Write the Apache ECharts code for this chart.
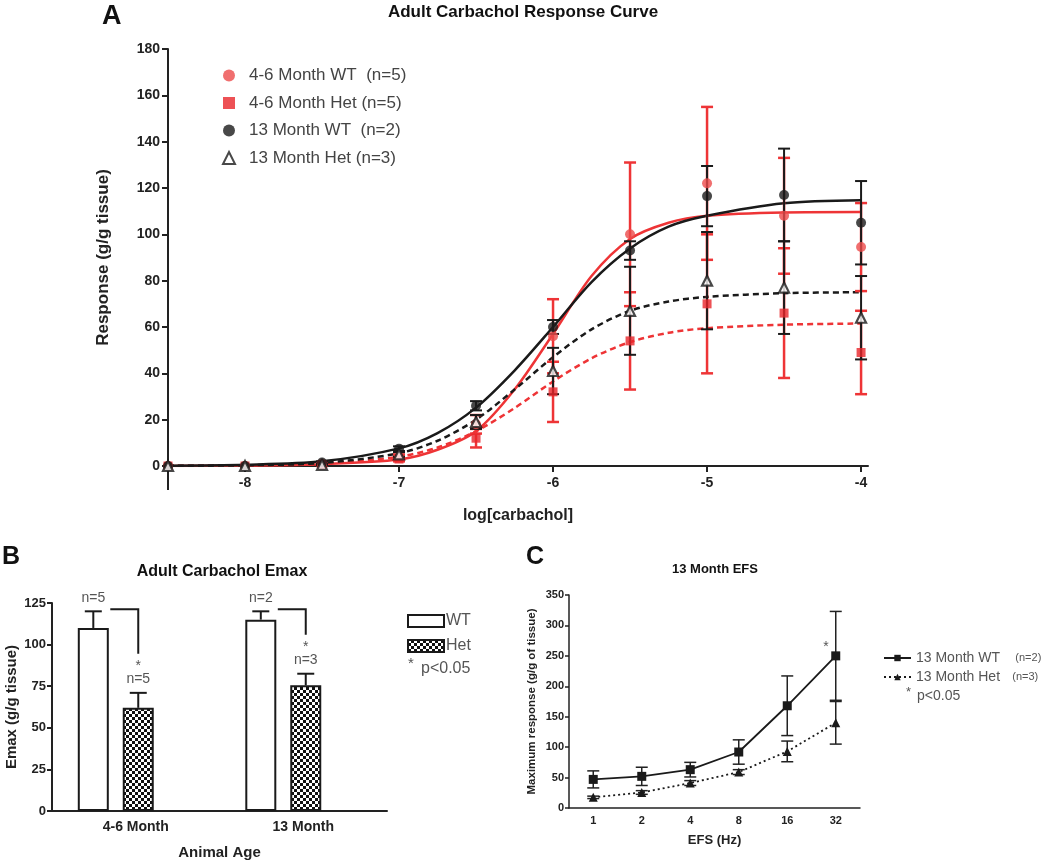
<!DOCTYPE html>
<html><head><meta charset="utf-8">
<script src="https://cdn.jsdelivr.net/npm/echarts@6/dist/echarts.min.js"></script>
<style>html,body{margin:0;padding:0;background:#fff}#c{width:1050px;height:861px}</style>
</head><body><div id="c"></div><script>
// ---------- Panel A: Adult Carbachol Response Curve ----------
const doseX = [-8.5, -8, -7.5, -7, -6.5, -6, -5.5, -5, -4.5, -4];
const wt46Mean = [0, 0, 1, 4, 18, 56, 100, 122, 108, 94.5];
const wt46Sem  = [0, 0, 0.5, 1, 4, 16, 31, 33, 25, 19];
const het46Mean = [0, 0, 0.5, 3, 12, 32, 54, 70, 66, 49];
const het46Sem  = [0, 0, 0.5, 1, 4, 13, 21, 30, 28, 18];
const wt13Mean = [0, 0, 1.5, 7.5, 26, 60, 93, 116.5, 117, 105];
const wt13Sem  = [0, 0, 0.5, 1, 2, 3, 4, 13, 20, 18];
const het13Mean = [0, 0, 0.5, 5, 19, 41, 67, 80, 77, 64];
const het13Sem  = [0, 0, 0.3, 1, 3, 10, 19, 21, 20, 18];
// fitted curves, values
const curveX = [-8.5, -8, -7.5, -7, -6.75, -6.5, -6.25, -6, -5.75, -5.5, -5.25, -5, -4.5, -4];
const wt46Curve  = [0, 0.2, 0.8, 2.8, 7, 15, 33, 57, 82, 98, 105, 108, 109.4, 109.6];
const het46Curve = [0.1, 0.3, 1, 4, 8, 15, 25, 36.5, 46.5, 53.5, 57.5, 59.5, 61, 61.5];
const wt13Curve  = [0.13, 0.5, 2, 7.6, 14.2, 25.2, 41.2, 60, 79.4, 93.9, 103.3, 108, 113.4, 114.7];
const het13Curve = [0.1, 0.3, 1.3, 5.5, 10.9, 20, 33, 47, 59, 67, 71, 73, 74.6, 75];
const legendA = ['4-6 Month WT  (n=5)', '4-6 Month Het (n=5)', '13 Month WT  (n=2)', '13 Month Het (n=3)'];
const xTicksA = [-8, -7, -6, -5, -4];

// ---------- Panel B: Adult Carbachol Emax ----------
const ageCats = ['4-6 Month', '13 Month'];
const emaxWT = [110, 115];
const emaxWTErr = [10, 5];
const emaxHet = [62, 75.5];
const emaxHetErr = [9, 7];
const nWT = ['n=5', 'n=2'];
const nHet = ['n=5', 'n=3'];

// ---------- Panel C: 13 Month EFS ----------
const efsCats = ['1', '2', '4', '8', '16', '32'];
const efsWT = [47, 52, 63, 92, 168, 250];
const efsWTErr = [14, 15, 12, 20, 49, 73];
const efsHet = [17.5, 25.5, 41, 59, 93, 140];
const efsHetErr = [2, 3, 4, 4, 17, 35];

const FONT = 'Liberation Sans, Arial, sans-serif';
const RED = '#EE3436', RED_M = '#EC4B4B', BLK = '#1a1a1a';

// checkered pattern
const pc = document.createElement('canvas');
pc.width = 6; pc.height = 6;
const px = pc.getContext('2d');
px.fillStyle = '#111'; px.fillRect(0, 0, 6, 6);
px.fillStyle = '#fff'; px.fillRect(0, 0, 3, 3); px.fillRect(3, 3, 3, 3);
const checker = { image: pc, repeat: 'repeat' };

function errBarA(color, cap, lw) {
  return function (params, api) {
    const x = api.value(0), m = api.value(1), e = api.value(2);
    if (!e) return { type: 'group', children: [] };
    const t = api.coord([x, m + e]), b = api.coord([x, m - e]);
    const st = { stroke: color, lineWidth: lw };
    return { type: 'group', children: [
      { type: 'line', shape: { x1: t[0], y1: t[1], x2: b[0], y2: b[1] }, style: st },
      { type: 'line', shape: { x1: t[0] - cap, y1: t[1], x2: t[0] + cap, y2: t[1] }, style: st },
      { type: 'line', shape: { x1: b[0] - cap, y1: b[1], x2: b[0] + cap, y2: b[1] }, style: st }
    ] };
  };
}
function zip3(a, b, c) { return a.map((v, i) => [a[i], b[i], c[i]]); }
function pairs(xs, ys) { return xs.map((x, i) => [x, ys[i]]); }

// bar offsets inside category (layout style constants)
const OFF_WT = -42.45, OFF_HET = 2.5;
function errBarB(off) {
  return function (params, api) {
    const i = api.value(0), m = api.value(1), e = api.value(2);
    const base = api.coord([i, m]), top = api.coord([i, m + e]);
    const x = base[0] + off;
    const st = { stroke: BLK, lineWidth: 2 };
    return { type: 'group', children: [
      { type: 'line', shape: { x1: x, y1: base[1], x2: x, y2: top[1] }, style: st },
      { type: 'line', shape: { x1: x - 8.5, y1: top[1], x2: x + 8.5, y2: top[1] }, style: st }
    ] };
  };
}
function bracketB(params, api) {
  const i = api.value(0), wtTop = api.value(1), hetTop = api.value(2);
  const pW = api.coord([i, wtTop]), pH = api.coord([i, hetTop]);
  const xw = pW[0] + OFF_WT, xh = pW[0] + OFF_HET;
  const yTop = pW[1] - 2, yEnd = pH[1] - 39;
  const st = { stroke: BLK, lineWidth: 2, fill: null };
  const txt = (x, y, s) => ({ type: 'text', x: x, y: y, style: { text: s, font: '14px ' + FONT, fill: '#555', align: 'center', verticalAlign: 'middle', textAlign: 'center', textVerticalAlign: 'middle' } });
  return { type: 'group', children: [
    { type: 'polyline', shape: { points: [[xw + 17, yTop], [xh, yTop], [xh, yEnd]] }, style: st },
    txt(xh, pH[1] - 27, '*'),
    txt(xh, pH[1] - 14, nHet[params.dataIndex]),
    txt(xw, pW[1] - 13, nWT[params.dataIndex])
  ] };
}
function errBarC(params, api) {
  const i = api.value(0), m = api.value(1), e = api.value(2);
  const t = api.coord([i, m + e]), b = api.coord([i, m - e]);
  const st = { stroke: '#222', lineWidth: 1.5 };
  return { type: 'group', children: [
    { type: 'line', shape: { x1: t[0], y1: t[1], x2: b[0], y2: b[1] }, style: st },
    { type: 'line', shape: { x1: t[0] - 6, y1: t[1], x2: t[0] + 6, y2: t[1] }, style: st },
    { type: 'line', shape: { x1: b[0] - 6, y1: b[1], x2: b[0] + 6, y2: b[1] }, style: st }
  ] };
}

const axisLineStyle = { lineStyle: { color: '#222', width: 2 } };
const boldLbl = (s) => ({ color: '#222', fontWeight: 'bold', fontSize: s, fontFamily: FONT });
const fitLine = (name, data, color, dashed) => ({
  name: name, type: 'line', xAxisIndex: 0, yAxisIndex: 0, smooth: 0.3,
  showSymbol: false, z: 2, data: data,
  lineStyle: { color: color, width: 2.5, type: dashed ? [6, 4] : 'solid' }
});

const option = {
  animation: false,
  backgroundColor: '#fff',
  textStyle: { fontFamily: FONT },
  grid: [
    { left: 168, top: 49, width: 700, height: 417 },
    { left: 52, top: 603, width: 335, height: 209 },
    { left: 569, top: 595, width: 291, height: 213 }
  ],
  xAxis: [
    { gridIndex: 0, type: 'value', min: -8.5, max: -3.955,
      name: 'log[carbachol]', nameLocation: 'middle', nameGap: 42,
      nameTextStyle: { fontWeight: 'bold', fontSize: 16, color: '#222' },
      axisLine: axisLineStyle,
      axisTick: { customValues: xTicksA, length: 6, lineStyle: { width: 2, color: '#222' } },
      axisLabel: Object.assign({ customValues: xTicksA, margin: 10 }, boldLbl(14)),
      splitLine: { show: false } },
    { gridIndex: 1, type: 'category', data: ageCats,
      name: 'Animal Age', nameLocation: 'middle', nameGap: 34,
      nameTextStyle: { fontWeight: 'bold', fontSize: 15, color: '#222' },
      axisLine: axisLineStyle,
      axisTick: { alignWithLabel: true, length: 6, lineStyle: { width: 2, color: '#222' } },
      axisLabel: Object.assign({ margin: 9 }, boldLbl(14)) },
    { gridIndex: 2, type: 'category', data: efsCats,
      name: 'EFS (Hz)', nameLocation: 'middle', nameGap: 26,
      nameTextStyle: { fontWeight: 'bold', fontSize: 13, color: '#222' },
      axisLine: { lineStyle: { color: '#222', width: 1.5 } },
      axisTick: { alignWithLabel: true, length: 5, lineStyle: { width: 1.5, color: '#222' } },
      axisLabel: Object.assign({ margin: 7 }, boldLbl(11)) }
  ],
  yAxis: [
    { gridIndex: 0, type: 'value', min: 0, max: 180, interval: 20,
      name: 'Response (g/g tissue)', nameLocation: 'middle', nameGap: 56,
      nameTextStyle: { fontWeight: 'bold', fontSize: 17, color: '#222' },
      axisLine: Object.assign({ show: true }, axisLineStyle),
      axisTick: { show: true, length: 6, lineStyle: { width: 2, color: '#222' } },
      axisLabel: Object.assign({ margin: 8 }, boldLbl(14)),
      splitLine: { show: false } },
    { gridIndex: 1, type: 'value', min: 0, max: 125, interval: 25,
      name: 'Emax (g/g tissue)', nameLocation: 'middle', nameGap: 33,
      nameTextStyle: { fontWeight: 'bold', fontSize: 15, color: '#222' },
      axisLine: Object.assign({ show: true }, axisLineStyle),
      axisTick: { show: true, length: 5, lineStyle: { width: 2, color: '#222' } },
      axisLabel: Object.assign({ margin: 6 }, boldLbl(13)),
      splitLine: { show: false } },
    { gridIndex: 2, type: 'value', min: 0, max: 350, interval: 50,
      name: 'Maximum response (g/g of tissue)', nameLocation: 'middle', nameGap: 31,
      nameTextStyle: { fontWeight: 'bold', fontSize: 11.5, color: '#222' },
      axisLine: { show: true, lineStyle: { color: '#222', width: 1.5 } },
      axisTick: { show: true, length: 4, lineStyle: { width: 1.5, color: '#222' } },
      axisLabel: Object.assign({ margin: 5 }, boldLbl(11)),
      splitLine: { show: false } }
  ],
  legend: [
    { left: 217, top: 62, orient: 'vertical', itemWidth: 12, itemHeight: 12, itemGap: 10.5,
      data: legendA, textStyle: { fontSize: 17, color: '#444', padding: [0, 0, 0, 9] } },
    { left: 402, top: 608, orient: 'vertical', itemWidth: 36, itemHeight: 12, itemGap: 9,
      icon: 'rect', data: ['WT', 'Het'], textStyle: { fontSize: 16, color: '#555', padding: [0, 0, 0, -3] } },
    { left: 878, top: 646, orient: 'vertical', itemWidth: 27, itemHeight: 8, itemGap: 5,
      data: ['13 Month WT', '13 Month Het'],
      formatter: function (n) { return '{a|' + n + '}{b|' + (n === '13 Month WT' ? '     (n=2)' : '    (n=3)') + '}'; },
      textStyle: { color: '#555', rich: { a: { fontSize: 14, color: '#555' }, b: { fontSize: 11, color: '#555' } } } }
  ],
  graphic: [
    { type: 'text', x: 102, y: 3, style: { text: 'A', font: 'bold 27px ' + FONT, fill: '#111' } },
    { type: 'text', x: 523, y: 4, style: { text: 'Adult Carbachol Response Curve', font: 'bold 17px ' + FONT, fill: '#111', textAlign: 'center', align: 'center' } },
    { type: 'line', shape: { x1: 168, y1: 466, x2: 168, y2: 490 }, style: { stroke: '#222', lineWidth: 2 } },
    { type: 'text', x: 2, y: 545, style: { text: 'B', font: 'bold 25px ' + FONT, fill: '#111' } },
    { type: 'text', x: 222, y: 564, style: { text: 'Adult Carbachol Emax', font: 'bold 16px ' + FONT, fill: '#111', textAlign: 'center', align: 'center' } },
    { type: 'text', x: 408, y: 656, style: { text: '*', font: '15px ' + FONT, fill: '#555' } },
    { type: 'text', x: 421, y: 661, style: { text: 'p<0.05', font: '16px ' + FONT, fill: '#555' } },
    { type: 'text', x: 526, y: 545, style: { text: 'C', font: 'bold 25px ' + FONT, fill: '#111' } },
    { type: 'text', x: 715, y: 563, style: { text: '13 Month EFS', font: 'bold 13px ' + FONT, fill: '#111', textAlign: 'center', align: 'center' } },
    { type: 'text', x: 906, y: 686, style: { text: '*', font: '13px ' + FONT, fill: '#555' } },
    { type: 'text', x: 917, y: 689, style: { text: 'p<0.05', font: '14px ' + FONT, fill: '#555' } }
  ],
  series: [
    fitLine('fit46WT', pairs(curveX, wt46Curve), RED, false),
    fitLine('fit46Het', pairs(curveX, het46Curve), RED, true),
    fitLine('fit13WT', pairs(curveX, wt13Curve), BLK, false),
    fitLine('fit13Het', pairs(curveX, het13Curve), BLK, true),
    // A error bars
    { name: 'e1', type: 'custom', xAxisIndex: 0, yAxisIndex: 0, z: 3, renderItem: errBarA(RED, 6, 2.5), data: zip3(doseX, wt46Mean, wt46Sem) },
    { name: 'e2', type: 'custom', xAxisIndex: 0, yAxisIndex: 0, z: 3, renderItem: errBarA(RED, 6, 2.5), data: zip3(doseX, het46Mean, het46Sem) },
    { name: 'e3', type: 'custom', xAxisIndex: 0, yAxisIndex: 0, z: 3, renderItem: errBarA(BLK, 6, 2), data: zip3(doseX, wt13Mean, wt13Sem) },
    { name: 'e4', type: 'custom', xAxisIndex: 0, yAxisIndex: 0, z: 3, renderItem: errBarA(BLK, 6, 2), data: zip3(doseX, het13Mean, het13Sem) },
    // A points
    { name: legendA[0], type: 'scatter', xAxisIndex: 0, yAxisIndex: 0, z: 4, symbol: 'circle', symbolSize: 10,
      itemStyle: { color: RED_M }, data: pairs(doseX, wt46Mean) },
    { name: legendA[1], type: 'scatter', xAxisIndex: 0, yAxisIndex: 0, z: 4, symbol: 'rect', symbolSize: 9,
      itemStyle: { color: '#E8262B' }, data: pairs(doseX, het46Mean) },
    { name: legendA[2], type: 'scatter', xAxisIndex: 0, yAxisIndex: 0, z: 4, symbol: 'circle', symbolSize: 10,
      itemStyle: { color: BLK }, data: pairs(doseX, wt13Mean) },
    { name: legendA[3], type: 'scatter', xAxisIndex: 0, yAxisIndex: 0, z: 4, symbol: 'triangle', symbolSize: 10,
      itemStyle: { color: '#fff', borderColor: BLK, borderWidth: 2.2 }, data: pairs(doseX, het13Mean) },
    // B bars
    { name: 'WT', type: 'bar', xAxisIndex: 1, yAxisIndex: 1, barWidth: 31, barGap: '45%', z: 2,
      itemStyle: { color: '#fff', borderColor: BLK, borderWidth: 2 }, data: emaxWT },
    { name: 'Het', type: 'bar', xAxisIndex: 1, yAxisIndex: 1, barWidth: 31, barGap: '45%', z: 2,
      itemStyle: { color: checker, borderColor: BLK, borderWidth: 2 }, data: emaxHet },
    { name: 'spacer', type: 'bar', xAxisIndex: 1, yAxisIndex: 1, barWidth: 26, barGap: '45%', data: [] },
    { name: 'eB1', type: 'custom', xAxisIndex: 1, yAxisIndex: 1, z: 3, renderItem: errBarB(OFF_WT),
      data: ageCats.map((c, i) => [i, emaxWT[i], emaxWTErr[i]]) },
    { name: 'eB2', type: 'custom', xAxisIndex: 1, yAxisIndex: 1, z: 3, renderItem: errBarB(OFF_HET),
      data: ageCats.map((c, i) => [i, emaxHet[i], emaxHetErr[i]]) },
    { name: 'brB', type: 'custom', xAxisIndex: 1, yAxisIndex: 1, z: 3, renderItem: bracketB,
      data: ageCats.map((c, i) => [i, emaxWT[i] + emaxWTErr[i], emaxHet[i] + emaxHetErr[i]]) },
    // C lines
    { name: '13 Month WT', type: 'line', xAxisIndex: 2, yAxisIndex: 2, z: 3, symbol: 'rect', symbolSize: 9,
      itemStyle: { color: BLK }, lineStyle: { color: BLK, width: 1.8 },
      data: efsWT.map((v, i) => i === efsWT.length - 1 ? { value: v, label: { show: true, formatter: '*', position: [-8, -11], color: '#555', fontSize: 14 } } : v) },
    { name: '13 Month Het', type: 'line', xAxisIndex: 2, yAxisIndex: 2, z: 3, symbol: 'triangle', symbolSize: 9,
      itemStyle: { color: BLK }, lineStyle: { color: BLK, width: 1.8, type: [2, 3] }, data: efsHet },
    { name: 'eC1', type: 'custom', xAxisIndex: 2, yAxisIndex: 2, z: 2, renderItem: errBarC,
      data: efsCats.map((c, i) => [i, efsWT[i], efsWTErr[i]]) },
    { name: 'eC2', type: 'custom', xAxisIndex: 2, yAxisIndex: 2, z: 2, renderItem: errBarC,
      data: efsCats.map((c, i) => [i, efsHet[i], efsHetErr[i]]) }
  ]
};
const chart = echarts.init(document.getElementById('c'), null, { renderer: 'canvas' });
chart.setOption(option);
</script></body></html>
